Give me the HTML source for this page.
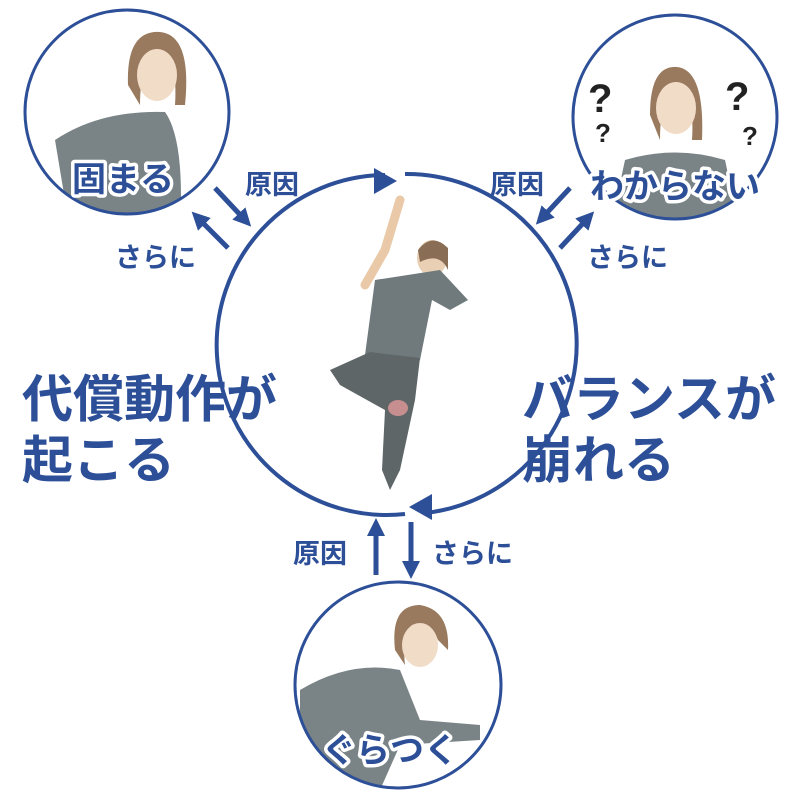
<!DOCTYPE html>
<html><head><meta charset="utf-8"><style>
html,body{margin:0;padding:0;background:#fff}
svg{display:block}
text{font-family:"Liberation Sans","Noto Sans CJK JP",sans-serif;fill:#2c4f98;font-weight:bold}
.lbl{stroke:#fff;stroke-width:7;paint-order:stroke;stroke-linejoin:round}
</style></head><body>
<svg width="800" height="800" viewBox="0 0 800 800" xmlns="http://www.w3.org/2000/svg">
<defs>
<marker id="ah" viewBox="0 0 10 10" refX="5" refY="5" markerWidth="3.6" markerHeight="3.6" orient="auto"><path d="M0,0L10,5L0,10z" fill="#2c4f98"/></marker>
<clipPath id="c1"><circle cx="127" cy="112" r="102"/></clipPath>
<clipPath id="c2"><circle cx="675" cy="117" r="102"/></clipPath>
<clipPath id="c3"><circle cx="398" cy="685" r="103"/></clipPath>
</defs>
<path d="M385,175 A170,170 0 1 0 405,514" fill="none" stroke="#2c4f98" stroke-width="4"/>
<path d="M405,174 A170,170 0 0 1 425,513" fill="none" stroke="#2c4f98" stroke-width="4"/>
<path d="M374,168 L397,181 L374,194z" fill="#2c4f98"/>
<path d="M432,494 L409,507 L432,520z" fill="#2c4f98"/>
<g>
<path d="M400,200 L385,250 L365,285" stroke="#e9c9a8" stroke-width="9" fill="none" stroke-linecap="round"/>
<ellipse cx="432" cy="258" rx="15" ry="18" fill="#e9d0b5"/>
<path d="M418,250 Q432,232 448,248 L448,270 Q440,252 420,262z" fill="#8a6d55"/>
<path d="M375,280 L440,270 L468,300 L450,310 L432,300 L420,360 L365,355 Z" fill="#707a7c"/>
<path d="M370,352 L420,358 L415,400 L400,470 L390,490 L382,470 L385,410 L340,385 L330,370 Z" fill="#5e6668"/>
<ellipse cx="398" cy="408" rx="10" ry="8" fill="#f2a0a0" opacity="0.7"/>
</g>
<g clip-path="url(#c1)">
<rect x="20" y="0" width="220" height="230" fill="#fff"/>
<path d="M55,140 Q100,110 165,112 Q185,140 180,230 L70,230 Z" fill="#7a8486"/>
<path d="M128,85 Q126,30 160,32 Q192,35 185,105 L175,105 Q178,60 160,50 Q140,60 140,105z" fill="#9a7a5e"/>
<ellipse cx="157" cy="75" rx="20" ry="26" fill="#f1dcc8"/>
</g>
<circle cx="127" cy="112" r="102" fill="none" stroke="#2c4f98" stroke-width="3"/>
<g clip-path="url(#c2)">
<rect x="570" y="10" width="210" height="220" fill="#fff"/>
<path d="M625,160 Q675,145 725,160 L740,230 L610,230z" fill="#7a8486"/>
<path d="M650,115 Q650,65 677,67 Q705,70 702,140 L692,140 Q695,95 677,85 Q660,95 660,140z" fill="#9a7a5e"/>
<ellipse cx="676" cy="108" rx="20" ry="26" fill="#f1dcc8"/>
<text x="588" y="112" style="fill:#222;font-size:40px">?</text>
<text x="595" y="142" style="fill:#222;font-size:26px">?</text>
<text x="725" y="110" style="fill:#222;font-size:40px">?</text>
<text x="742" y="145" style="fill:#222;font-size:26px">?</text>
</g>
<circle cx="675" cy="117" r="102" fill="none" stroke="#2c4f98" stroke-width="3"/>
<g clip-path="url(#c3)">
<rect x="290" y="580" width="220" height="215" fill="#fff"/>
<path d="M300,690 Q350,660 400,670 L420,720 L480,725 L480,740 L400,745 L380,790 L300,790z" fill="#7a8486"/>
<path d="M395,650 Q390,605 420,605 Q450,610 448,650 L438,640 Q430,620 412,625 Q402,640 405,665z" fill="#9a7a5e"/>
<ellipse cx="420" cy="645" rx="18" ry="22" fill="#f1dcc8"/>
</g>
<circle cx="398" cy="685" r="103" fill="none" stroke="#2c4f98" stroke-width="3"/>
<g stroke="#2c4f98" stroke-width="5" marker-end="url(#ah)">
<line x1="215" y1="188" x2="245" y2="220"/>
<line x1="228" y1="248" x2="198" y2="218"/>
<line x1="570" y1="188" x2="542" y2="218"/>
<line x1="560" y1="248" x2="588" y2="218"/>
<line x1="376" y1="575" x2="376" y2="527"/>
<line x1="411" y1="522" x2="411" y2="570"/>
</g>
<text x="245" y="194" style="font-size:27px">原因</text>
<text x="115" y="267" style="font-size:27px">さらに</text>
<text x="490" y="194" style="font-size:27px">原因</text>
<text x="587" y="267" style="font-size:27px">さらに</text>
<text x="293" y="563" style="font-size:27px">原因</text>
<text x="432" y="563" style="font-size:27px">さらに</text>
<text class="lbl" x="72" y="191" style="font-size:34px">固まる</text>
<text class="lbl" x="590" y="198" style="font-size:34px">わからない</text>
<text class="lbl" x="322" y="762" style="font-size:34px">ぐらつく</text>
<text x="22" y="417" style="font-size:51px">代償動作が</text>
<text x="22" y="478" style="font-size:51px">起こる</text>
<text x="522" y="417" style="font-size:51px">バランスが</text>
<text x="522" y="478" style="font-size:51px">崩れる</text>
</svg>
</body></html>
